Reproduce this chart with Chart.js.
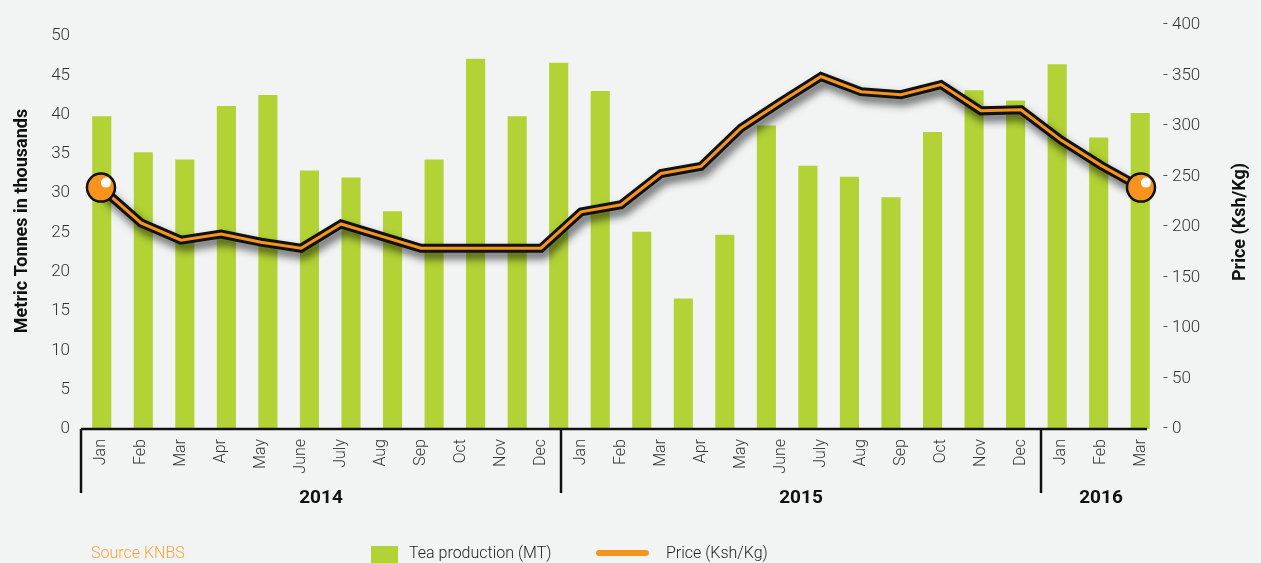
<!DOCTYPE html>
<html>
<head>
<meta charset="utf-8">
<script src="https://cdn.jsdelivr.net/npm/chart.js@4.4.1/dist/chart.umd.min.js"></script>
<style>
  html, body { margin: 0; padding: 0; background: #f2f4f3; }
  #wrap { position: relative; width: 1261px; height: 563px; overflow: hidden; }
  canvas { position: absolute; left: 0; top: 0; }
  .lg { position: absolute; font-family: Roboto, sans-serif; font-weight: 300; font-size: 16px; color: #222; white-space: nowrap; }
</style>
</head>
<body>
<div id="wrap">
  <canvas id="chart" width="1261" height="563"></canvas>
  <div class="lg" style="left:91px; top:543px; color:#f7a440;">Source KNBS</div>
  <div style="position:absolute; left:371px; top:546px; width:27px; height:20px; background:#b2d235;"></div>
  <div class="lg" style="left:409px; top:543px;">Tea production (MT)</div>
  <div style="position:absolute; left:596px; top:550px; width:53px; height:6px; border-radius:3px; background:#f7941d;"></div>
  <div class="lg" style="left:666px; top:543px;">Price (Ksh/Kg)</div>
</div>
<script>
// months on the axis (Jan 2014 .. Mar 2016)
const months = ['Jan', 'Feb', 'Mar', 'Apr', 'May', 'June', 'July', 'Aug', 'Sep', 'Oct', 'Nov', 'Dec',
                'Jan', 'Feb', 'Mar', 'Apr', 'May', 'June', 'July', 'Aug', 'Sep', 'Oct', 'Nov', 'Dec',
                'Jan', 'Feb', 'Mar'];
const years = ['2014', '2015', '2016'];
const monthsPerYear = [12, 12, 3];

// tea production, thousand metric tonnes (bars)
const teaProduction = [39.8, 35.2, 34.3, 41.1, 42.5, 32.9, 32.0, 27.7, 34.3, 47.1, 39.8, 46.6,
                       43.0, 25.1, 16.6, 24.7, 38.6, 33.5, 32.1, 29.5, 37.8, 43.1, 41.8, 46.4,
                       37.1, 40.2];

// price, Ksh/Kg (line)
const price = [239, 204, 187, 193, 185, 179, 203, 191, 179, 179, 179, 179,
               215, 222, 253, 260, 298, 324, 349, 334, 331, 341, 315, 316,
               286, 261, 239];

const FONT = 'Roboto, sans-serif';
const ORANGE = '#f7941d';
const GREEN = '#b2d235';

// dark drop shadow under the black line
const shadowPlugin = {
  id: 'lineShadow',
  beforeDatasetDraw(chart, args) {
    if (args.index !== 1) return;
    const ctx = chart.ctx;
    ctx.save();
    ctx.shadowColor = 'rgba(0,0,0,0.6)';
    ctx.shadowBlur = 9;
    ctx.shadowOffsetX = 3;
    ctx.shadowOffsetY = 6;
  },
  afterDatasetDraw(chart, args) {
    if (args.index === 1) chart.ctx.restore();
  }
};

// axis line, year groups, titles, marker highlights
const decorPlugin = {
  id: 'decor',
  afterDraw(chart) {
    const ctx = chart.ctx;
    const area = chart.chartArea;
    const x = chart.scales.x;
    const base = chart.scales.y.getPixelForValue(0);

    ctx.save();
    ctx.strokeStyle = '#111';
    ctx.lineWidth = 2.5;
    ctx.beginPath();
    ctx.moveTo(area.left, base);
    ctx.lineTo(area.right - 14, base);
    ctx.stroke();

    // year dividers and labels
    let start = 0;
    ctx.font = 'bold 19px ' + FONT;
    ctx.fillStyle = '#111';
    ctx.textAlign = 'center';
    ctx.textBaseline = 'middle';
    monthsPerYear.forEach((n, i) => {
      const first = x.getPixelForValue(start);
      const last = x.getPixelForValue(start + n - 1);
      const divX = i > 0 ? (x.getPixelForValue(start - 1) + first) / 2 : area.left;
      ctx.beginPath();
      ctx.moveTo(divX, base);
      ctx.lineTo(divX, base + 64);
      ctx.stroke();
      ctx.fillText(years[i], (first + last) / 2, base + 69);
      start += n;
    });

    // axis titles
    ctx.font = 'bold 18px ' + FONT;
    ctx.save();
    ctx.translate(22, 221);
    ctx.rotate(-Math.PI / 2);
    ctx.fillText('Metric Tonnes in thousands', 0, 0);
    ctx.restore();
    ctx.save();
    ctx.translate(1240, 222);
    ctx.rotate(-Math.PI / 2);
    ctx.fillText('Price (Ksh/Kg)', 0, 0);
    ctx.restore();

    // white highlight on the end markers
    const pts = chart.getDatasetMeta(0).data;
    [pts[0], pts[pts.length - 1]].forEach(p => {
      ctx.fillStyle = '#ffffff';
      ctx.beginPath();
      ctx.arc(p.x + 5, p.y - 5, 5, 0, Math.PI * 2);
      ctx.fill();
    });
    ctx.restore();
  }
};

const isEnd = c => c.dataIndex === 0 || c.dataIndex === price.length - 1;

new Chart(document.getElementById('chart'), {
  type: 'bar',
  data: {
    labels: months,
    datasets: [
      {
        type: 'line',
        label: 'Price (Ksh/Kg)',
        data: price,
        xAxisID: 'x',
        yAxisID: 'yR',
        borderColor: ORANGE,
        borderWidth: 3,
        tension: 0,
        pointRadius: c => isEnd(c) ? 14 : 0,
        pointBackgroundColor: ORANGE,
        pointBorderColor: '#111',
        pointBorderWidth: 2.5,
        clip: false,
        order: 0
      },
      {
        type: 'line',
        label: 'outline',
        data: price,
        xAxisID: 'x',
        yAxisID: 'yR',
        borderColor: '#111',
        borderWidth: 9,
        borderJoinStyle: 'miter',
        tension: 0,
        pointRadius: 0,
        clip: false,
        order: 1
      },
      {
        type: 'bar',
        label: 'Tea production (MT)',
        data: teaProduction,
        xAxisID: 'xBar',
        yAxisID: 'y',
        backgroundColor: GREEN,
        grouped: false,
        barPercentage: 0.46,
        categoryPercentage: 1,
        order: 2
      }
    ]
  },
  options: {
    responsive: false,
    animation: false,
    devicePixelRatio: 1,
    layout: { padding: { top: 25, left: 0, right: 0, bottom: 0 } },
    plugins: {
      legend: { display: false },
      tooltip: { enabled: false }
    },
    scales: {
      x: {
        type: 'category',
        offset: true,
        grid: { display: false, drawTicks: false },
        border: { display: false },
        ticks: {
          autoSkip: false,
          minRotation: 90,
          maxRotation: 90,
          padding: 10,
          color: '#333',
          font: { family: FONT, size: 16, weight: '300' }
        },
        afterFit: s => { s.height = 134; }
      },
      xBar: {
        type: 'category',
        labels: teaProduction.map((_, i) => String(i)),
        offset: true,
        display: false
      },
      y: {
        position: 'left',
        min: 0,
        max: 51.4,
        grid: { display: false, drawTicks: false },
        border: { display: false },
        ticks: {
          stepSize: 5,
          includeBounds: false,
          padding: 11,
          color: '#333',
          font: { family: FONT, size: 17, weight: '300' }
        },
        afterFit: s => { s.width = 81; }
      },
      yR: {
        position: 'right',
        min: 0,
        max: 400,
        grid: { display: false, drawTicks: false },
        border: { display: false },
        ticks: {
          stepSize: 50,
          padding: 2,
          color: '#333',
          font: { family: FONT, size: 17, weight: '300' },
          callback: v => '- ' + v
        },
        afterFit: s => { s.width = 100; }
      }
    }
  },
  plugins: [shadowPlugin, decorPlugin]
});
</script>
</body>
</html>
